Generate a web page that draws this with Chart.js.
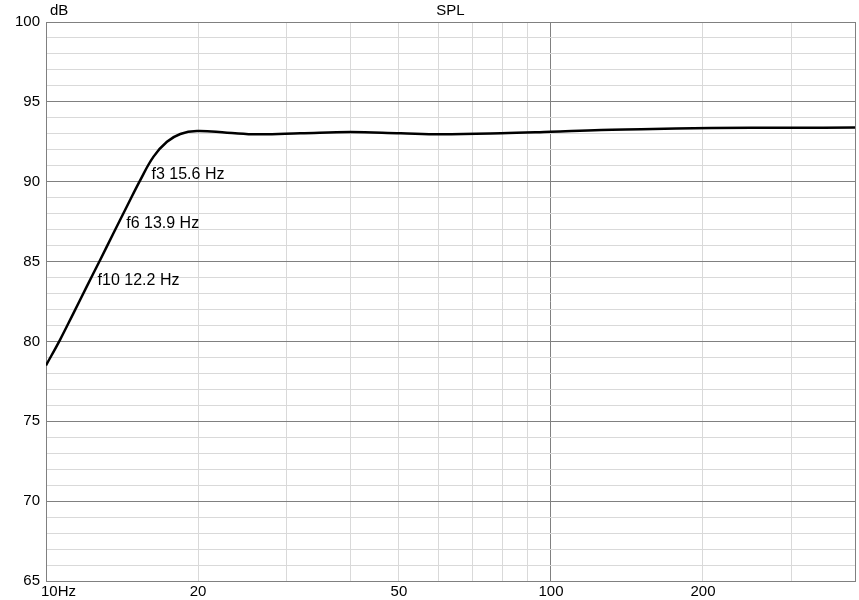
<!DOCTYPE html>
<html>
<head>
<meta charset="utf-8">
<script src="https://cdn.jsdelivr.net/npm/chart.js@4/dist/chart.umd.min.js"></script>
<style>
  html, body { margin: 0; padding: 0; background: #fff; }
  #wrap { width: 859px; height: 600px; }
</style>
</head>
<body>
<div id="wrap"><canvas id="grafico"></canvas></div>
<script>
// dados
const freqs = [10, 10.66, 11.33, 12.04, 12.8, 13.6, 14.45, 15.37, 16.33, 17.36, 18.45, 19.91, 22.83, 26.2, 31.9, 40.1, 50.4, 60.5, 79.6, 100, 125.7, 150.9, 207.6, 300, 400];
const spl = [78.5, 80.1, 81.76, 83.43, 85.1, 86.77, 88.43, 90.1, 91.57, 92.5, 92.99, 93.17, 93.07, 92.97, 93.03, 93.11, 93.03, 92.97, 93.03, 93.13, 93.24, 93.28, 93.36, 93.38, 93.39];

const xTicks = [10, 20, 30, 40, 50, 60, 70, 80, 90, 100, 200, 300, 400];
const xLabels = { 10: '      10Hz', 20: '20', 50: '50', 100: '100', 200: '200' };

// marcadores f3 / f6 / f10
const markerFreqs = [15.6, 13.9, 12.2];
const markerLevels = [90.45, 87.4, 83.8];
const markerLabels = ['f3 15.6 Hz', 'f6 13.9 Hz', 'f10 12.2 Hz'];

const dark = '#808080';
const light = '#d9d9d9';
const fonte = { family: '"Liberation Sans", Arial, sans-serif', size: 15 };

// desenha "dB" e os rótulos dos marcadores
const extras = {
    id: 'extras',
    afterDatasetsDraw(chart) {
        const ctx = chart.ctx;
        const xs = chart.scales.x, ys = chart.scales.y;
        ctx.save();
        ctx.fillStyle = '#000';
        ctx.textBaseline = 'middle';
        ctx.textAlign = 'left';
        ctx.font = '15px "Liberation Sans", Arial, sans-serif';
        ctx.fillText('dB', chart.chartArea.left + 4, 11);
        ctx.font = '16px "Liberation Sans", Arial, sans-serif';
        markerLabels.forEach((t, i) => {
            const px = xs.getPixelForValue(markerFreqs[i]);
            const py = ys.getPixelForValue(markerLevels[i]);
            ctx.fillText(t, px + 8, py);
        });
        ctx.restore();
    }
};

new Chart(document.getElementById('grafico').getContext('2d'), {
    type: 'line',
    data: {
        datasets: [{
            data: freqs.map((f, i) => ({ x: f, y: spl[i] })),
            borderColor: '#000',
            borderWidth: 2.5,
            pointRadius: 0,
            tension: 0.4,
            fill: false
        }]
    },
    options: {
        responsive: true,
        maintainAspectRatio: false,
        animation: false,
        layout: { padding: { left: 0, right: 4, top: 0, bottom: 0 } },
        plugins: {
            legend: { display: false },
            tooltip: { enabled: false },
            title: {
                display: true,
                text: 'SPL',
                fullSize: false,
                color: '#000',
                font: { ...fonte, weight: 'normal' },
                padding: { top: 2, bottom: 2 }
            }
        },
        scales: {
            x: {
                type: 'logarithmic',
                min: 10,
                max: 400,
                afterBuildTicks: s => { s.ticks = xTicks.map(v => ({ value: v })); },
                afterFit: s => { s.height = 19; },
                grid: {
                    drawTicks: false,
                    color: c => (c.tick && (c.tick.value === 100 || c.tick.value === 400)) ? dark : light
                },
                border: { color: dark },
                ticks: {
                    autoSkip: false,
                    maxRotation: 0,
                    padding: 2,
                    color: '#000',
                    font: fonte,
                    callback: v => xLabels[v] || ''
                }
            },
            y: {
                min: 65,
                max: 100,
                afterFit: s => { s.width = 46; },
                grid: {
                    drawTicks: false,
                    color: c => (c.tick && c.tick.value % 5 === 0) ? dark : light
                },
                border: { color: dark },
                ticks: {
                    stepSize: 1,
                    autoSkip: false,
                    padding: 6,
                    color: '#000',
                    font: fonte,
                    callback: v => v % 5 === 0 ? v : ''
                }
            }
        }
    },
    plugins: [extras]
});
</script>
</body>
</html>
